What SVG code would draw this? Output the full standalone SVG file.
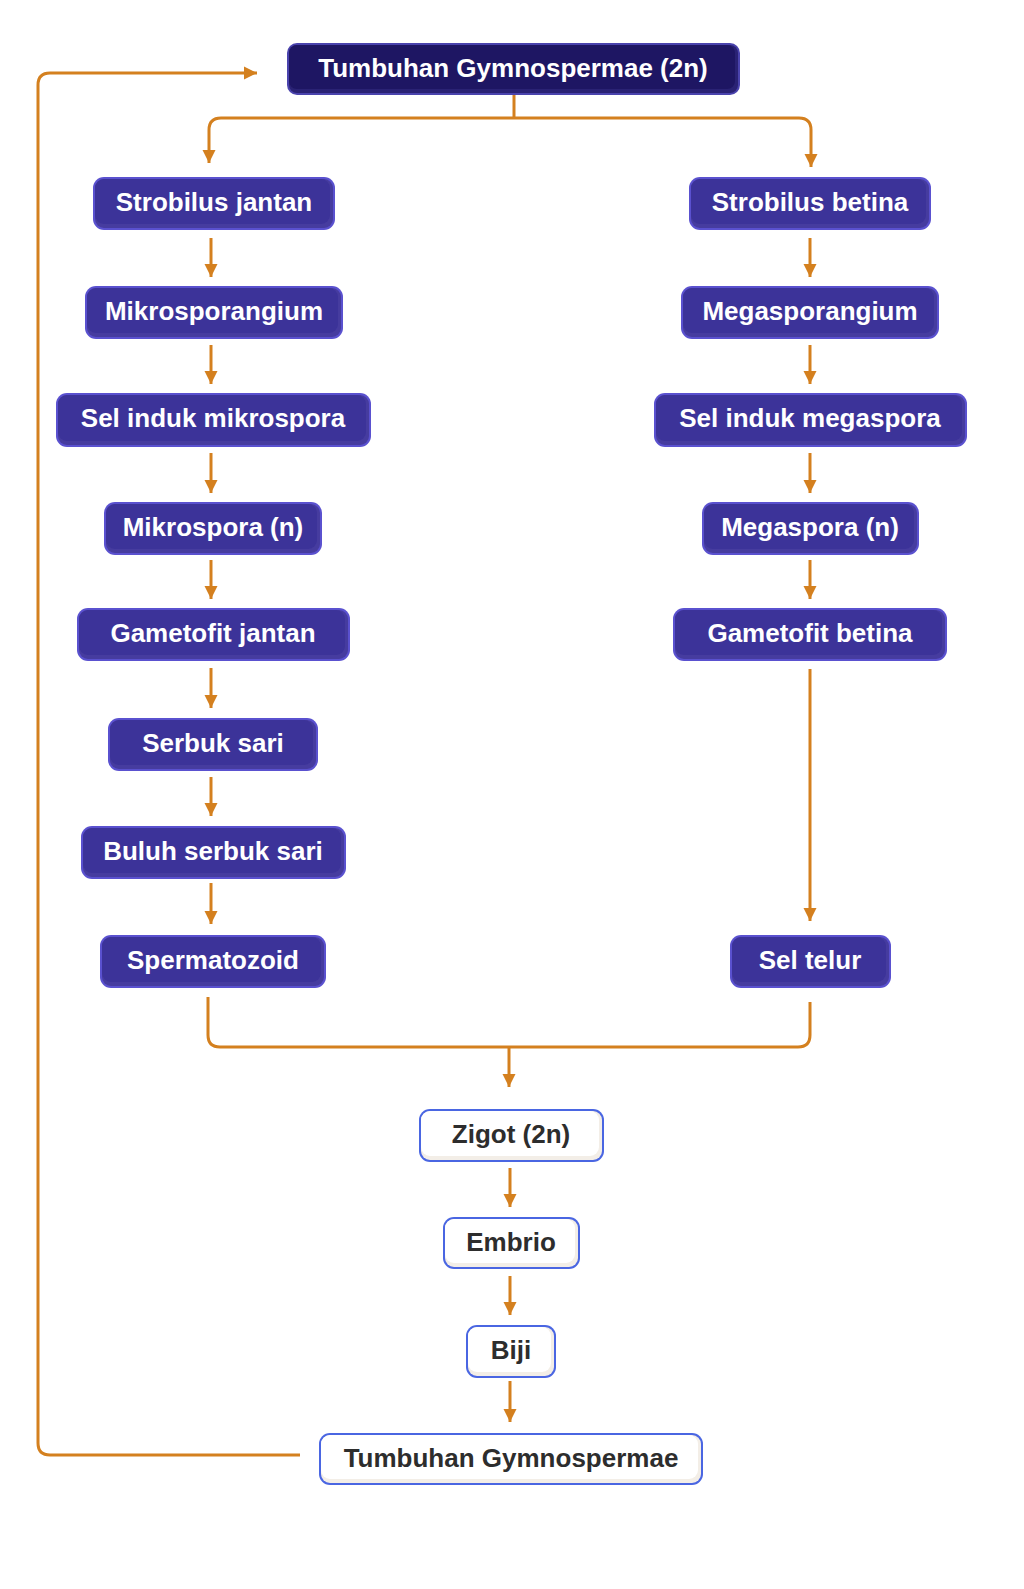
<svg xmlns="http://www.w3.org/2000/svg" width="1024" height="1589" viewBox="0 0 1024 1589">
<style>
.c{fill:none;stroke:#d4801f;stroke-width:3;}
.a{marker-end:url(#ah);}
.pb{fill:#5a51cf;}
.ps{fill:#463c9f;}
.pf{fill:#3c3399;}
.db{fill:#4a43ad;}
.ds{fill:#2a2274;}
.df{fill:#1e1663;}
.wb{fill:#4a66e2;}
.ws{fill:#f3eee7;}
.wf{fill:#ffffff;}
.t{font-family:"Liberation Sans",Arial,sans-serif;font-weight:bold;font-size:26px;text-anchor:middle;fill:#ffffff;}
.tw{fill:#2d2d2d;}
</style>
<defs>
<marker id="ah" markerUnits="userSpaceOnUse" markerWidth="16" markerHeight="16" viewBox="0 0 16 16" refX="13" refY="8" orient="auto">
<path d="M0,1.5 L13,8 L0,14.5 Z" fill="#d4801f"/>
</marker>
</defs>
<rect width="1024" height="1589" fill="#ffffff"/>
<g id="connectors">
<path class="c a" d="M300,1455 H50 Q38,1455 38,1443 V85 Q38,73 50,73 H257"/>
<path class="c" d="M514,95 V118"/>
<path class="c a" d="M514,118 H221 Q209,118 209,130 V163"/>
<path class="c a" d="M514,118 H799 Q811,118 811,130 V167"/>
<path class="c a" d="M211,238 V277"/>
<path class="c a" d="M211,345 V384"/>
<path class="c a" d="M211,453 V493"/>
<path class="c a" d="M211,560 V599"/>
<path class="c a" d="M211,668 V708"/>
<path class="c a" d="M211,777 V816"/>
<path class="c a" d="M211,883 V924"/>
<path class="c a" d="M810,238 V277"/>
<path class="c a" d="M810,345 V384"/>
<path class="c a" d="M810,453 V493"/>
<path class="c a" d="M810,560 V599"/>
<path class="c a" d="M810,669 V921"/>
<path class="c" d="M208,997 V1035 Q208,1047 220,1047 H798 Q810,1047 810,1035 V1002"/>
<path class="c a" d="M509,1047 V1087"/>
<path class="c a" d="M510,1168 V1207"/>
<path class="c a" d="M510,1276 V1315"/>
<path class="c a" d="M510,1381 V1422"/>
</g>
<g id="n-top">
<rect class="db" x="287" y="43" width="453" height="52" rx="10"/>
<rect class="ds" x="289" y="45" width="449" height="48" rx="8"/>
<rect class="df" x="289" y="45" width="446" height="44" rx="8"/>
<text class="t" x="513" y="77">Tumbuhan Gymnospermae (2n)</text>
</g>
<g id="n-strobilus-jantan">
<rect class="pb" x="93" y="177" width="242" height="53" rx="11"/>
<rect class="ps" x="95" y="179" width="238" height="49" rx="9"/>
<rect class="pf" x="95" y="179" width="235" height="45" rx="9"/>
<text class="t" x="214" y="211">Strobilus jantan</text>
</g>
<g id="n-mikrosporangium">
<rect class="pb" x="85" y="286" width="258" height="53" rx="11"/>
<rect class="ps" x="87" y="288" width="254" height="49" rx="9"/>
<rect class="pf" x="87" y="288" width="251" height="45" rx="9"/>
<text class="t" x="214" y="320">Mikrosporangium</text>
</g>
<g id="n-sel-induk-mikrospora">
<rect class="pb" x="56" y="393" width="315" height="54" rx="11"/>
<rect class="ps" x="58" y="395" width="311" height="50" rx="9"/>
<rect class="pf" x="58" y="395" width="308" height="46" rx="9"/>
<text class="t" x="213" y="427">Sel induk mikrospora</text>
</g>
<g id="n-mikrospora">
<rect class="pb" x="104" y="502" width="218" height="53" rx="11"/>
<rect class="ps" x="106" y="504" width="214" height="49" rx="9"/>
<rect class="pf" x="106" y="504" width="211" height="45" rx="9"/>
<text class="t" x="213" y="536">Mikrospora (n)</text>
</g>
<g id="n-gametofit-jantan">
<rect class="pb" x="77" y="608" width="273" height="53" rx="11"/>
<rect class="ps" x="79" y="610" width="269" height="49" rx="9"/>
<rect class="pf" x="79" y="610" width="266" height="45" rx="9"/>
<text class="t" x="213" y="642">Gametofit jantan</text>
</g>
<g id="n-serbuk-sari">
<rect class="pb" x="108" y="718" width="210" height="53" rx="11"/>
<rect class="ps" x="110" y="720" width="206" height="49" rx="9"/>
<rect class="pf" x="110" y="720" width="203" height="45" rx="9"/>
<text class="t" x="213" y="752">Serbuk sari</text>
</g>
<g id="n-buluh-serbuk-sari">
<rect class="pb" x="81" y="826" width="265" height="53" rx="11"/>
<rect class="ps" x="83" y="828" width="261" height="49" rx="9"/>
<rect class="pf" x="83" y="828" width="258" height="45" rx="9"/>
<text class="t" x="213" y="860">Buluh serbuk sari</text>
</g>
<g id="n-spermatozoid">
<rect class="pb" x="100" y="935" width="226" height="53" rx="11"/>
<rect class="ps" x="102" y="937" width="222" height="49" rx="9"/>
<rect class="pf" x="102" y="937" width="219" height="45" rx="9"/>
<text class="t" x="213" y="969">Spermatozoid</text>
</g>
<g id="n-strobilus-betina">
<rect class="pb" x="689" y="177" width="242" height="53" rx="11"/>
<rect class="ps" x="691" y="179" width="238" height="49" rx="9"/>
<rect class="pf" x="691" y="179" width="235" height="45" rx="9"/>
<text class="t" x="810" y="211">Strobilus betina</text>
</g>
<g id="n-megasporangium">
<rect class="pb" x="681" y="286" width="258" height="53" rx="11"/>
<rect class="ps" x="683" y="288" width="254" height="49" rx="9"/>
<rect class="pf" x="683" y="288" width="251" height="45" rx="9"/>
<text class="t" x="810" y="320">Megasporangium</text>
</g>
<g id="n-sel-induk-megaspora">
<rect class="pb" x="654" y="393" width="313" height="54" rx="11"/>
<rect class="ps" x="656" y="395" width="309" height="50" rx="9"/>
<rect class="pf" x="656" y="395" width="306" height="46" rx="9"/>
<text class="t" x="810" y="427">Sel induk megaspora</text>
</g>
<g id="n-megaspora">
<rect class="pb" x="702" y="502" width="217" height="53" rx="11"/>
<rect class="ps" x="704" y="504" width="213" height="49" rx="9"/>
<rect class="pf" x="704" y="504" width="210" height="45" rx="9"/>
<text class="t" x="810" y="536">Megaspora (n)</text>
</g>
<g id="n-gametofit-betina">
<rect class="pb" x="673" y="608" width="274" height="53" rx="11"/>
<rect class="ps" x="675" y="610" width="270" height="49" rx="9"/>
<rect class="pf" x="675" y="610" width="267" height="45" rx="9"/>
<text class="t" x="810" y="642">Gametofit betina</text>
</g>
<g id="n-sel-telur">
<rect class="pb" x="730" y="935" width="161" height="53" rx="11"/>
<rect class="ps" x="732" y="937" width="157" height="49" rx="9"/>
<rect class="pf" x="732" y="937" width="154" height="45" rx="9"/>
<text class="t" x="810" y="969">Sel telur</text>
</g>
<g id="n-zigot">
<rect class="wb" x="419" y="1109" width="185" height="53" rx="11"/>
<rect class="ws" x="421" y="1111" width="181" height="49" rx="9"/>
<rect class="wf" x="421" y="1111" width="178" height="45" rx="9"/>
<text class="t tw" x="511" y="1143">Zigot (2n)</text>
</g>
<g id="n-embrio">
<rect class="wb" x="443" y="1217" width="137" height="52" rx="11"/>
<rect class="ws" x="445" y="1219" width="133" height="48" rx="9"/>
<rect class="wf" x="445" y="1219" width="130" height="44" rx="9"/>
<text class="t tw" x="511" y="1251">Embrio</text>
</g>
<g id="n-biji">
<rect class="wb" x="466" y="1325" width="90" height="53" rx="11"/>
<rect class="ws" x="468" y="1327" width="86" height="49" rx="9"/>
<rect class="wf" x="468" y="1327" width="83" height="45" rx="9"/>
<text class="t tw" x="511" y="1359">Biji</text>
</g>
<g id="n-tumbuhan">
<rect class="wb" x="319" y="1433" width="384" height="52" rx="11"/>
<rect class="ws" x="321" y="1435" width="380" height="48" rx="9"/>
<rect class="wf" x="321" y="1435" width="377" height="44" rx="9"/>
<text class="t tw" x="511" y="1467">Tumbuhan Gymnospermae</text>
</g>
</svg>
